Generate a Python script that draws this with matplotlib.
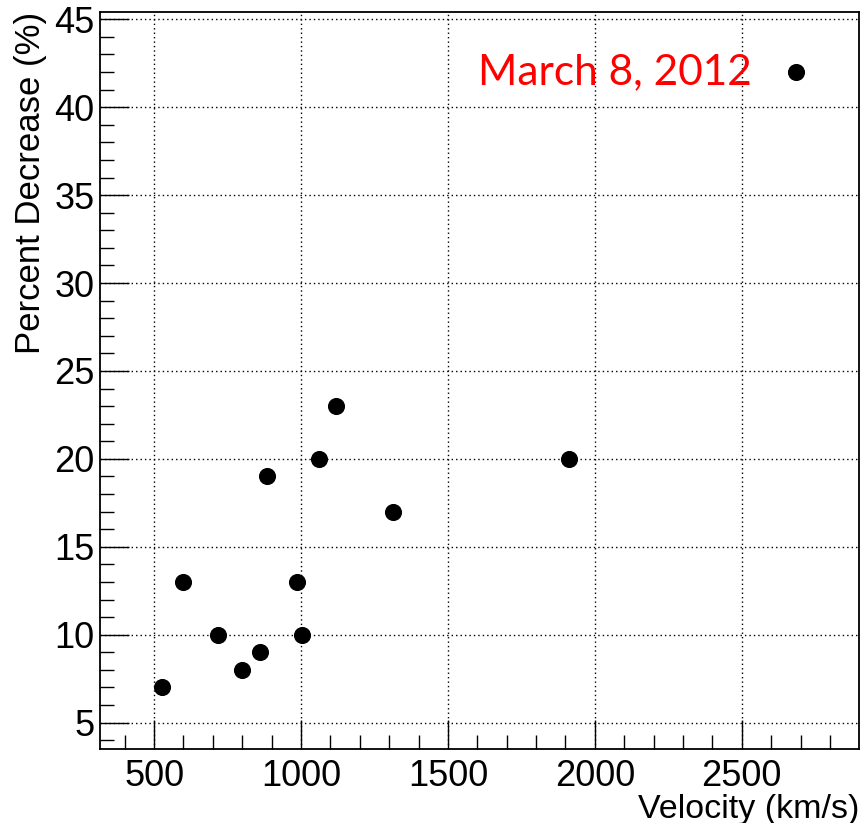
"""
Percent decrease versus CME velocity, ROOT-style scatter plot.
"""

import matplotlib
matplotlib.use("Agg")
import matplotlib.pyplot as plt
from matplotlib.ticker import MultipleLocator

# event velocities (km/s) and percent decrease (%)
velocity = [527, 599, 719, 800, 862, 885, 987, 1005, 1061, 1119, 1313, 1912]
decrease = [7, 13, 10, 8, 9, 19, 13, 10, 20, 23, 17, 20]

# highlighted event
event_label = "March 8, 2012"
event_velocity = 2684
event_decrease = 42

x_ticks = [500, 1000, 1500, 2000, 2500]
y_ticks = [5, 10, 15, 20, 25, 30, 35, 40, 45]

plt.rcParams["font.family"] = ["Liberation Sans", "DejaVu Sans"]

fig = plt.figure(figsize=(8.63, 8.23), dpi=100)
ax = fig.add_axes([0.1159, 0.0899, 0.8795, 0.8959])

ax.plot(velocity, decrease, "o", color="black", markersize=11.3, zorder=3)
ax.plot([event_velocity], [event_decrease], "o", color="black",
        markersize=11.3, zorder=3)
ax.text(2535, event_decrease, event_label, color="red", ha="right",
        va="center", fontsize=30.5, family=["Lato", "DejaVu Sans"], zorder=4)

ax.set_xlim(316, 2899)
ax.set_ylim(3.5, 45.43)

ax.set_xticks(x_ticks)
ax.set_yticks(y_ticks)
ax.xaxis.set_minor_locator(MultipleLocator(100))
ax.yaxis.set_minor_locator(MultipleLocator(1))
ax.tick_params(which="both", direction="in", top=False, right=False,
               labelsize=26, width=1.0, colors="black")
ax.tick_params(which="major", length=21)
ax.tick_params(which="minor", length=10)
ax.tick_params(axis="x", which="major", pad=7)
ax.tick_params(axis="y", which="major", pad=4)

ax.grid(which="major", color="black", linestyle=(0, (1, 2.2)), linewidth=1.0)

for spine in ax.spines.values():
    spine.set_linewidth(1.3)

ax.set_xlabel("Velocity (km/s)", fontsize=24.5, loc="right", labelpad=0)
ax.set_ylabel("Percent Decrease (%)", fontsize=25, loc="top", labelpad=5)

fig.savefig("out.png", dpi=100)
